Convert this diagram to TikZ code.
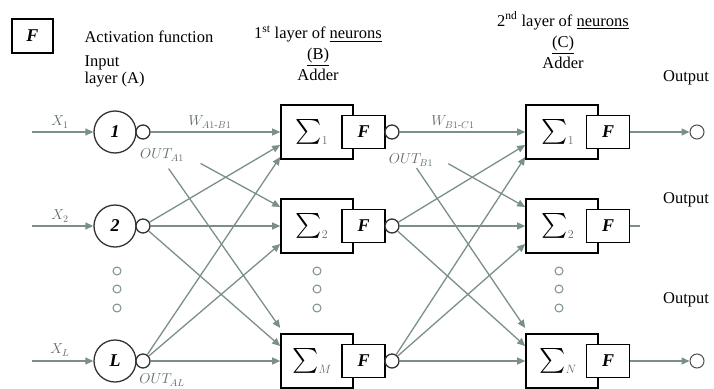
\documentclass[tikz,border=0pt]{standalone}
\usepackage{amsmath}
\usepackage{fontspec}
\setmainfont{Liberation Serif}
\usetikzlibrary{arrows.meta}
\definecolor{wire}{RGB}{122,143,140}
\definecolor{wiretext}{RGB}{95,106,106}
\begin{document}
\begin{tikzpicture}
        [x=1pt,y=-1pt,
        font=\fontsize{16.5}{21}\selectfont,
        neuron/.style={circle,draw=black!80,line width=1.3pt,minimum size=42pt,inner sep=0pt,
            font=\fontsize{18}{18}\selectfont\bfseries\itshape},
        outdot/.style={circle,draw=black!80,line width=1.3pt,fill=white,minimum size=14pt,inner sep=0pt},
        sumbox/.style={rectangle,draw=black,line width=1.6pt,minimum width=72pt,minimum height=54pt,inner sep=0pt},
        actbox/.style={rectangle,draw=black,line width=1.6pt,fill=white,minimum width=43pt,minimum height=33pt,
            inner sep=0pt,font=\fontsize{18}{18}\selectfont\bfseries\itshape},
        sigma/.style={font=\fontsize{23}{23}\selectfont},
        gapdot/.style={circle,draw=wire,line width=1pt,minimum size=8pt,inner sep=0pt},
        wlabel/.style={text=wiretext,font=\fontsize{14}{14}\selectfont},
        line/.style={draw=wire,line width=1.3pt},
        wirearrow/.style={line,-{Triangle[length=8pt,width=7pt]}}]
    \useasboundingbox (0,0) rectangle (714,388);
    % legend and headings
    \node[actbox,minimum width=41pt,minimum height=34pt] (legend) at (32.5,36) {F};
    \node[anchor=west] (actlbl) at (81,37) {Activation function};
    \node[anchor=west,align=left,font=\fontsize{16.5}{17}\selectfont] (inlbl) at (81,71) {Input\\layer (A)};
    \node[align=center] (hdB) at (318,53) {1\textsuperscript{st} layer of \underline{neurons}\\\underline{(B)}\\Adder};
    \node[align=center] (hdC) at (563,40) {2\textsuperscript{nd} layer of \underline{neurons}\\\underline{(C)}\\Adder};
    \node (out1) at (686,78) {Output};
    \node (out2) at (686,200) {Output};
    \node (out3) at (686,300) {Output};
    % input layer (A)
    \coordinate (in1) at (32,132);
    \coordinate (in2) at (32,226);
    \coordinate (inL) at (32,361);
    \node[neuron] (a1) at (115,132) {1};
    \node[neuron] (a2) at (115,226) {2};
    \node[neuron] (aL) at (115,361) {L};
    \node[outdot] (o1) at (143,132) {};
    \node[outdot] (o2) at (143,226) {};
    \node[outdot] (oL) at (143,361) {};
    \node[gapdot] (dA1) at (117,271) {};
    \node[gapdot] (dA2) at (117,289) {};
    \node[gapdot] (dA3) at (117,308) {};
    % first layer (B)
    \node[sumbox] (b1) at (317,132) {};
    \node[sumbox] (b2) at (317,226) {};
    \node[sumbox] (bM) at (317,361) {};
    \node[sigma] (s1) at ([xshift=-5pt]b1.center) {$\sum_{\scriptscriptstyle\color{wiretext}1}$};
    \node[sigma] (s2) at ([xshift=-5pt]b2.center) {$\sum_{\scriptscriptstyle\color{wiretext}2}$};
    \node[sigma] (sM) at ([xshift=-5pt]bM.center) {$\sum_{\scriptscriptstyle\color{wiretext}M}$};
    \node[actbox] (fb1) at (363.5,132) {F};
    \node[actbox] (fb2) at (363.5,226) {F};
    \node[actbox] (fbM) at (363.5,361) {F};
    \node[outdot] (ob1) at (392,132) {};
    \node[outdot] (ob2) at (392,226) {};
    \node[outdot] (obM) at (392,361) {};
    \node[gapdot] (dB1) at (317,271) {};
    \node[gapdot] (dB2) at (317,289) {};
    \node[gapdot] (dB3) at (317,308) {};
    % second layer (C)
    \node[sumbox] (c1) at (562,132) {};
    \node[sumbox] (c2) at (562,226) {};
    \node[sumbox] (cN) at (562,361) {};
    \node[sigma] (t1) at ([xshift=-4pt]c1.center) {$\sum_{\scriptscriptstyle\color{wiretext}1}$};
    \node[sigma] (t2) at ([xshift=-4pt]c2.center) {$\sum_{\scriptscriptstyle\color{wiretext}2}$};
    \node[sigma] (tN) at ([xshift=-4pt]cN.center) {$\sum_{\scriptscriptstyle\color{wiretext}N}$};
    \node[actbox] (fc1) at (608,132) {F};
    \node[actbox] (fc2) at (608,226) {F};
    \node[actbox] (fcN) at (608,361) {F};
    \node[gapdot] (dC1) at (559,271) {};
    \node[gapdot] (dC2) at (559,289) {};
    \node[gapdot] (dC3) at (559,308) {};
    \node[outdot,draw=black!70,line width=1pt] (y1) at (697,132) {};
    \node[outdot,draw=black!70,line width=1pt] (yN) at (697,361) {};
    \coordinate (stub2) at (640,226);
    % inputs
    \draw[wirearrow] (in1) -- (a1);
    \draw[wirearrow] (in2) -- (a2);
    \draw[wirearrow] (inL) -- (aL);
    % A -> B
    \draw[wirearrow] (o1) -- (b1.west);
    \draw[wirearrow,shorten <=58pt] (o1) -- ([yshift=19pt]b2.west);
    \draw[wirearrow,shorten <=37pt] (o1) -- ([yshift=33pt]bM.west);
    \draw[wirearrow] (o2) -- ([yshift=-13pt]b1.west);
    \draw[wirearrow] (o2) -- (b2.west);
    \draw[wirearrow] (o2) -- ([yshift=15pt]bM.west);
    \draw[wirearrow] (oL) -- ([yshift=-25pt]b1.west);
    \draw[wirearrow] (oL) -- ([yshift=-18pt]b2.west);
    \draw[wirearrow] (oL) -- (bM.west);
    % B -> C
    \draw[wirearrow] (ob1) -- (c1.west);
    \draw[wirearrow,shorten <=57pt] (ob1) -- ([yshift=19pt]c2.west);
    \draw[wirearrow,shorten <=36pt] (ob1) -- ([yshift=33pt]cN.west);
    \draw[wirearrow] (ob2) -- ([yshift=-13pt]c1.west);
    \draw[wirearrow] (ob2) -- (c2.west);
    \draw[wirearrow] (ob2) -- ([yshift=15pt]cN.west);
    \draw[wirearrow] (obM) -- ([yshift=-25pt]c1.west);
    \draw[wirearrow] (obM) -- ([yshift=-18pt]c2.west);
    \draw[wirearrow] (obM) -- (cN.west);
    % outputs
    \draw[wirearrow] (fc1) -- (y1);
    \draw[line] (fc2) -- (stub2);
    \draw[wirearrow] (fcN) -- (yN);
    % wire labels
    \node[wlabel] (x1) at (60,122) {$X_1$};
    \node[wlabel] (x2) at (60,216) {$X_2$};
    \node[wlabel] (xL) at (60,350) {$X_L$};
    \node[wlabel] (wab) at (210,122) {$W_{A1\text{-}B1}$};
    \node[wlabel] (wbc) at (453,122) {$W_{B1\text{-}C1}$};
    \node[wlabel] (outa1) at (162,155) {$OUT_{A1}$};
    \node[wlabel] (outaL) at (162,380) {$OUT_{AL}$};
    \node[wlabel] (outb1) at (411,160) {$OUT_{B1}$};
\end{tikzpicture}
\end{document}
